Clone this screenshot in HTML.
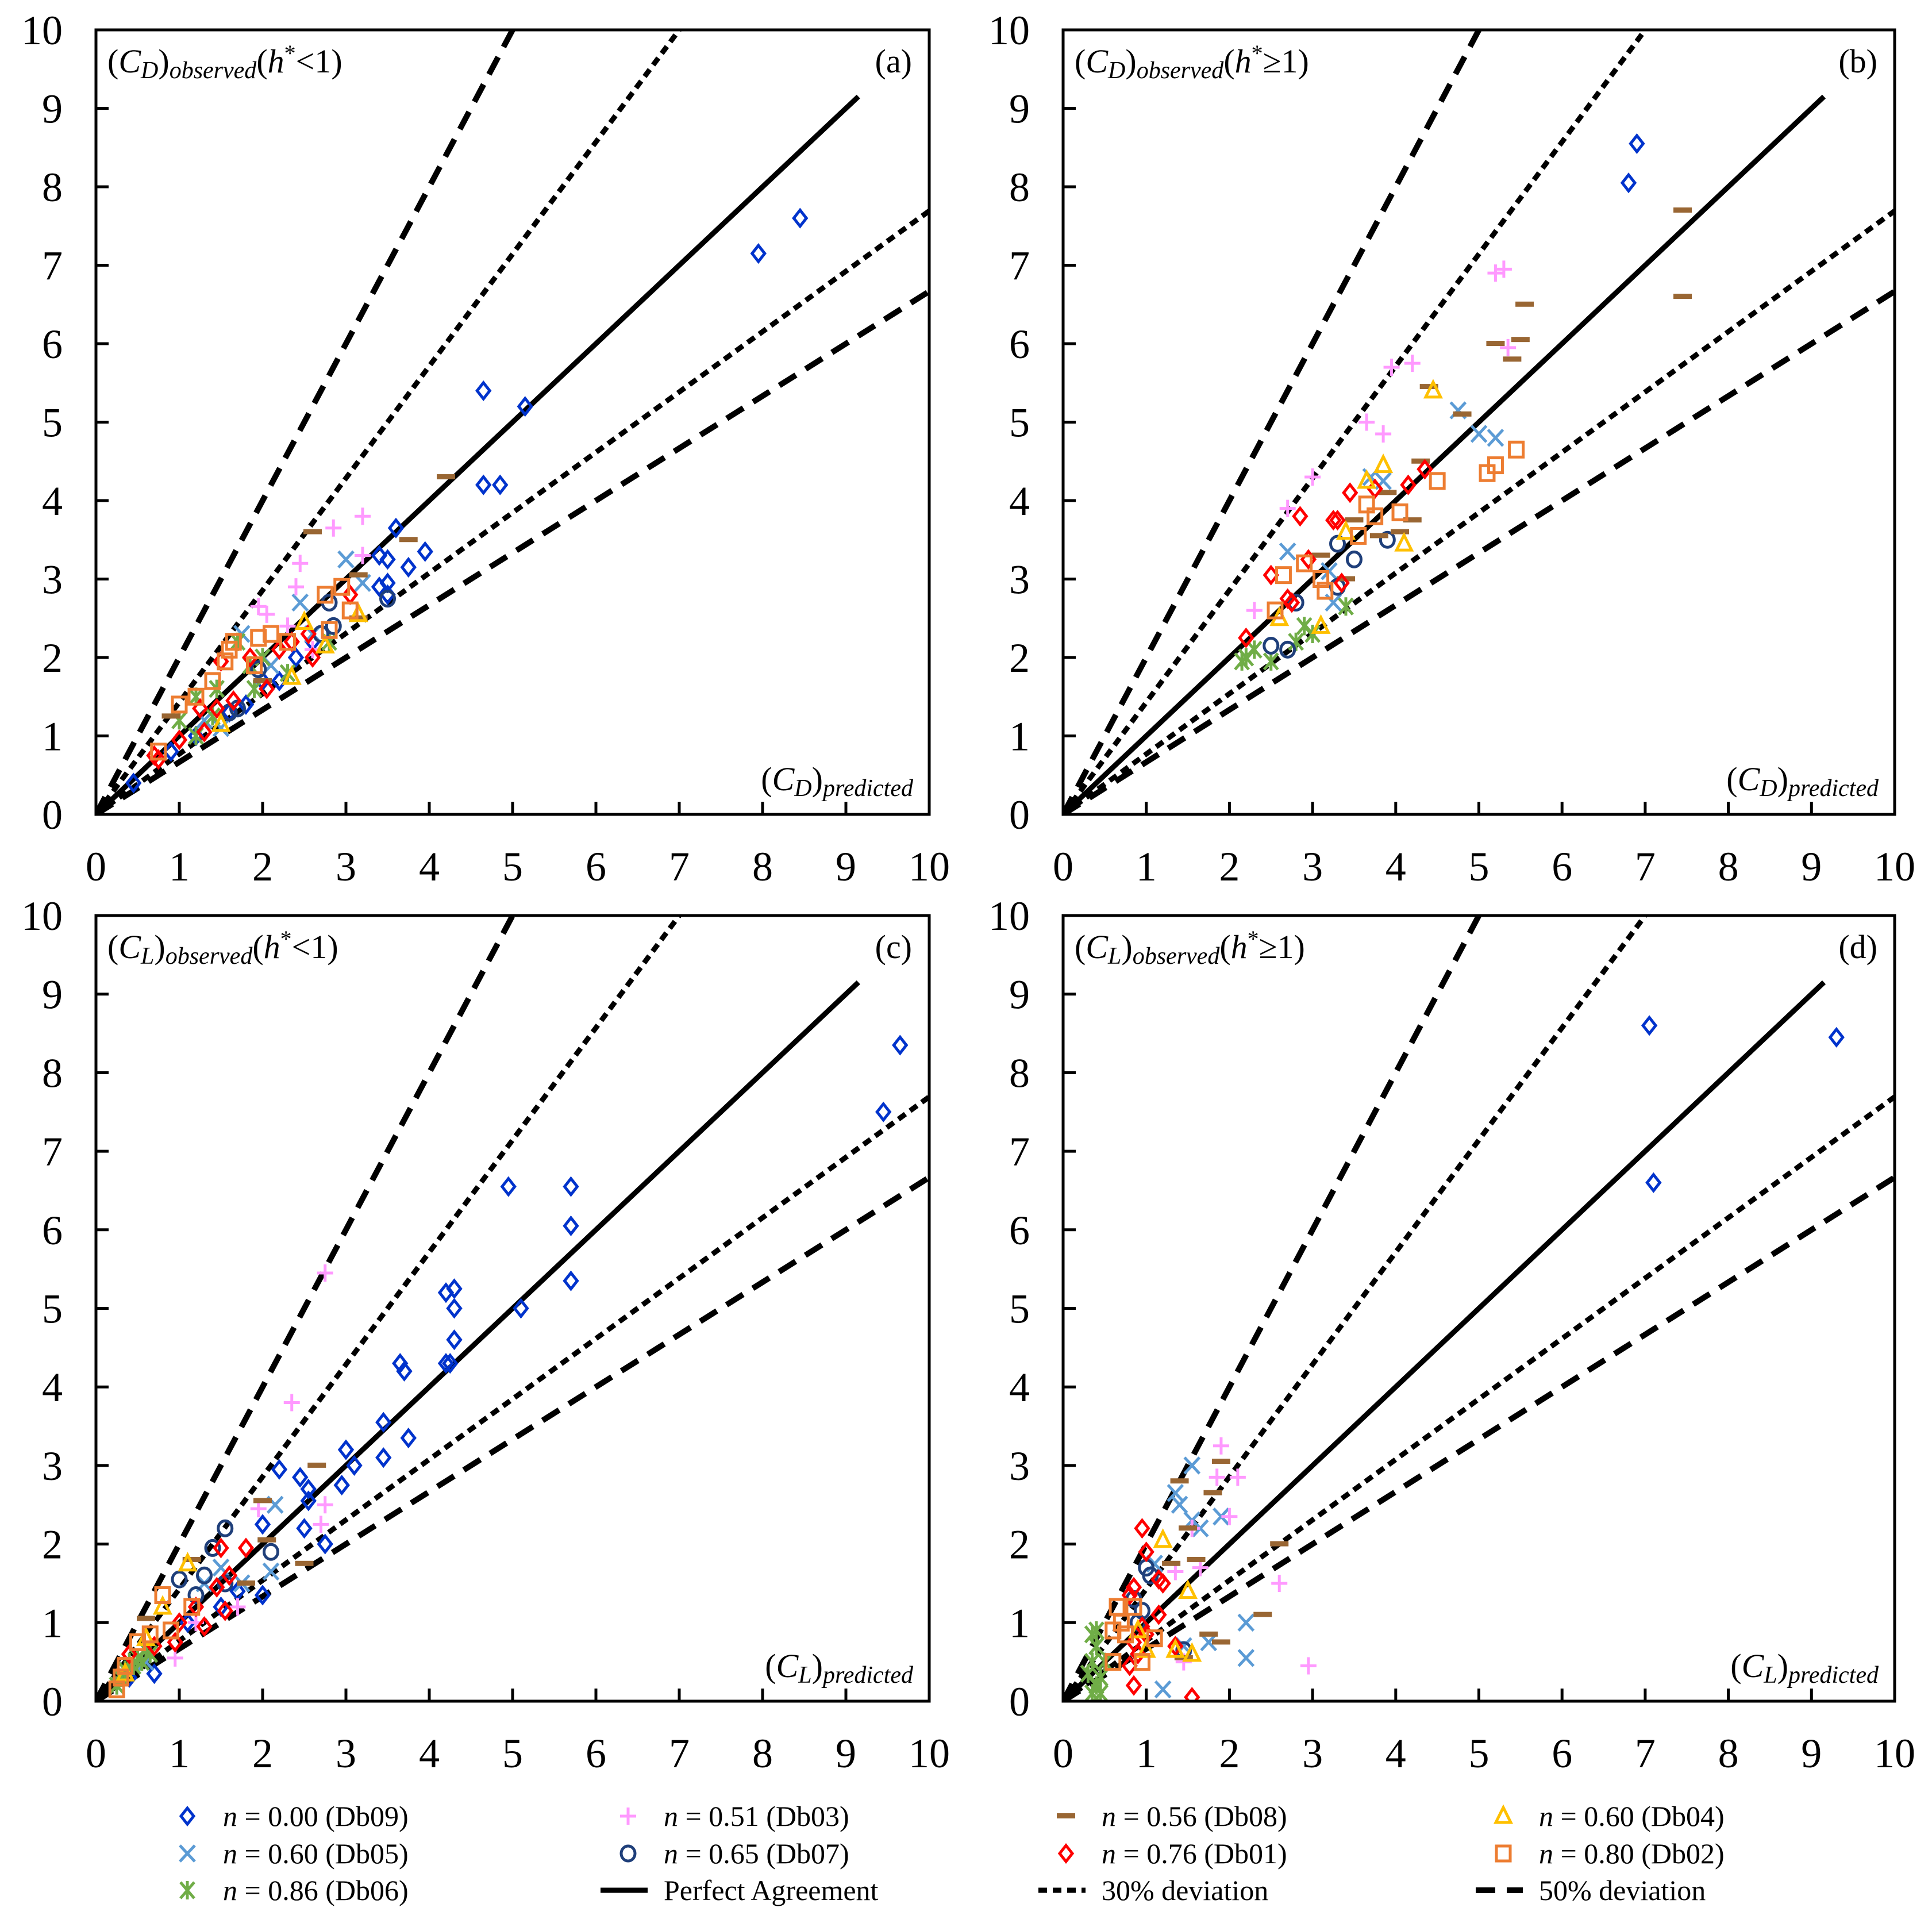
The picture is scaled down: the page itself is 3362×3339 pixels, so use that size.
<!DOCTYPE html>
<html><head><meta charset="utf-8">
<style>
html,body{margin:0;padding:0;background:#fff;}
svg, svg text{font-family:"Liberation Serif","Times New Roman",serif;}
</style></head>
<body>
<svg id="fig" width="3362" height="3334" viewBox="0 0 3362 3334" xmlns="http://www.w3.org/2000/svg" font-family="Liberation Serif, serif"></svg>
<script>
const seriesKeys = ["Db09","Db05","Db06","Db03","Db07","Db08","Db01","Db04","Db02"];
const seriesLabels = ["n = 0.00 (Db09)","n = 0.60 (Db05)","n = 0.86 (Db06)","n = 0.51 (Db03)","n = 0.65 (Db07)","n = 0.56 (Db08)","n = 0.76 (Db01)","n = 0.60 (Db04)","n = 0.80 (Db02)"];
const tickValues = [0,1,2,3,4,5,6,7,8,9,10];
const tickLabels = ["0","1","2","3","4","5","6","7","8","9","10"];
const devUpper30 = 1/0.7, devLower30 = 1/1.3, devUpper50 = 2, devLower50 = 1/1.5;

const panelA_Db09=[[0.45,0.4],[7.95,7.15],[8.45,7.6],[4.65,5.4],[5.15,5.2],[4.65,4.2],[4.85,4.2],[3.6,3.65],[3.4,3.3],[3.5,3.25],[3.95,3.35],[3.75,3.15],[3.4,2.9],[3.5,2.95],[3.5,2.8],[2.6,2.2],[2.2,1.7],[2.0,1.7],[1.8,1.4],[1.6,1.3],[1.2,1.0],[0.9,0.8],[2.4,2.0]];
const panelA_Db05=[[2.45,2.7],[3.0,3.25],[3.2,2.95],[1.75,2.3],[1.5,1.1],[2.1,1.9],[1.3,1.2],[2.6,2.3]];
const panelA_Db06=[[1.0,1.2],[1.2,1.5],[1.45,1.6],[1.7,2.2],[1.85,1.9],[1.9,1.6],[2.3,1.8],[2.8,2.2],[1.2,1.0],[1.4,1.25],[2.0,2.0]];
const panelA_Db03=[[1.95,2.65],[2.05,2.55],[2.4,2.9],[2.45,3.2],[2.85,3.65],[3.2,3.8],[3.2,3.3],[2.3,2.4],[2.6,2.1]];
const panelA_Db07=[[3.5,2.75],[2.85,2.4],[2.8,2.7],[1.7,1.35],[1.6,1.3],[1.95,1.85],[2.7,2.3]];
const panelA_Db08=[[4.2,4.3],[2.6,3.6],[3.75,3.5],[3.15,3.05],[3.15,2.5],[0.9,1.25],[2.0,1.7]];
const panelA_Db01=[[0.7,0.75],[0.75,0.7],[1.0,0.95],[1.3,1.05],[1.45,1.35],[1.5,1.95],[1.65,1.45],[1.85,2.0],[2.05,1.6],[2.2,2.1],[2.55,2.3],[2.6,2.0],[3.05,2.8],[1.25,1.35],[2.35,2.2]];
const panelA_Db04=[[3.15,2.55],[2.75,2.15],[2.35,1.75],[1.5,1.15],[2.5,2.45]];
const panelA_Db02=[[0.75,0.8],[1.0,1.4],[1.2,1.5],[1.4,1.7],[1.55,1.95],[1.6,2.1],[1.65,2.2],[1.95,2.25],[2.1,2.3],[2.3,2.2],[2.75,2.8],[2.95,2.9],[3.05,2.6],[2.8,2.35],[1.9,1.9]];

const panelB_Db09=[[6.8,8.05],[6.9,8.55]];
const panelB_Db05=[[4.75,5.15],[5.0,4.85],[5.2,4.8],[2.7,3.35],[3.85,4.25],[3.7,4.3],[3.25,2.7],[3.2,3.1]];
const panelB_Db06=[[2.2,2.0],[2.3,2.1],[2.5,1.95],[2.8,2.2],[2.9,2.4],[3.4,2.65],[3.0,2.3],[2.15,1.95]];
const panelB_Db03=[[5.2,6.9],[5.3,6.95],[5.35,5.95],[3.95,5.7],[4.2,5.75],[3.65,5.0],[3.85,4.85],[3.0,4.3],[2.7,3.9],[2.3,2.6]];
const panelB_Db07=[[2.5,2.15],[2.7,2.1],[3.3,2.9],[3.3,3.45],[3.5,3.25],[3.9,3.5],[2.8,2.7]];
const panelB_Db08=[[7.45,7.7],[7.45,6.6],[5.55,6.5],[5.2,6.0],[5.5,6.05],[5.4,5.8],[4.4,5.45],[4.8,5.1],[4.3,4.5],[3.9,4.1],[3.5,3.75],[3.8,3.55],[3.1,3.3],[4.2,3.75],[4.05,3.6],[3.4,3.0]];
const panelB_Db01=[[2.2,2.25],[2.5,3.05],[2.7,2.75],[2.75,2.7],[2.85,3.8],[3.25,3.75],[3.3,3.75],[3.45,4.1],[3.75,4.15],[4.15,4.2],[4.35,4.4],[2.95,3.25],[3.35,2.95]];
const panelB_Db04=[[4.45,5.4],[3.85,4.45],[4.1,3.45],[3.65,4.25],[3.4,3.6],[3.1,2.4],[2.6,2.5]];
const panelB_Db02=[[5.45,4.65],[5.2,4.45],[5.1,4.35],[4.5,4.25],[3.65,3.95],[3.75,3.8],[3.55,3.55],[3.1,3.0],[2.65,3.05],[2.9,3.2],[2.55,2.6],[3.15,2.85],[4.05,3.85]];

const panelC_Db09=[[9.65,8.35],[9.45,7.5],[4.95,6.55],[5.7,6.55],[5.7,6.05],[5.7,5.35],[5.1,5.0],[4.2,5.2],[4.3,5.25],[4.3,5.0],[4.3,4.6],[4.25,4.3],[4.2,4.3],[3.65,4.3],[3.7,4.2],[3.75,3.35],[3.45,3.55],[3.45,3.1],[3.0,3.2],[3.1,3.0],[2.95,2.75],[2.75,2.0],[2.2,2.95],[2.45,2.85],[2.55,2.7],[2.5,2.2],[2.55,2.55],[2.0,2.25],[2.0,1.35],[1.7,1.4],[1.5,1.2],[1.1,1.0],[0.7,0.35],[0.4,0.3]];
const panelC_Db05=[[2.15,2.5],[2.1,1.65],[1.75,1.5],[1.5,1.7],[1.3,1.5],[0.6,0.5]];
const panelC_Db06=[[0.3,0.3],[0.35,0.4],[0.45,0.45],[0.5,0.55],[0.55,0.5],[0.6,0.65],[0.25,0.2],[0.4,0.5],[0.65,0.6]];
const panelC_Db03=[[2.35,3.8],[2.75,5.45],[2.75,2.5],[2.7,2.25],[1.95,2.45],[1.7,1.2],[1.2,1.0],[0.95,0.55]];
const panelC_Db07=[[1.55,2.2],[1.4,1.95],[1.3,1.6],[2.1,1.9],[1.55,1.5],[1.0,1.55],[1.2,1.35]];
const panelC_Db08=[[2.65,3.0],[2.0,2.55],[2.5,1.75],[2.05,2.05],[1.8,1.5],[0.6,1.05],[1.15,1.8]];
const panelC_Db01=[[1.5,1.95],[1.8,1.95],[1.45,1.45],[1.2,1.2],[1.55,1.15],[1.3,0.95],[0.95,0.75],[0.7,0.7],[0.4,0.6],[1.6,1.6],[1.0,1.0]];
const panelC_Db04=[[1.1,1.75],[0.8,1.2],[0.6,0.8],[0.35,0.35]];
const panelC_Db02=[[0.8,1.35],[0.65,0.85],[0.5,0.75],[0.35,0.45],[0.3,0.3],[0.25,0.15],[0.9,0.9],[1.15,1.2]];

const panelD_Db09=[[7.05,8.6],[9.3,8.45],[7.1,6.6]];
const panelD_Db05=[[1.55,3.0],[1.35,2.65],[1.4,2.5],[1.55,2.3],[1.65,2.2],[1.9,2.35],[2.2,1.0],[2.2,0.55],[1.2,0.15],[1.75,0.75],[1.1,1.75],[1.45,0.7]];
const panelD_Db06=[[0.35,0.85],[0.4,0.9],[0.4,0.7],[0.35,0.5],[0.3,0.35],[0.45,0.3],[0.35,0.1],[0.45,0.1],[0.4,0.2],[0.5,0.5]];
const panelD_Db03=[[1.9,3.25],[1.85,2.85],[2.1,2.85],[2.0,2.35],[1.55,2.2],[1.35,1.65],[1.65,1.7],[2.6,1.5],[2.95,0.45],[1.45,0.5]];
const panelD_Db07=[[1.0,1.7],[1.05,1.6],[0.85,1.3],[0.95,1.15],[1.45,0.65],[0.9,1.0]];
const panelD_Db08=[[1.4,2.8],[1.8,2.65],[1.9,3.05],[1.5,2.2],[1.6,1.8],[1.3,1.75],[1.75,0.85],[2.4,1.1],[2.6,2.0],[1.9,0.75],[1.45,0.55]];
const panelD_Db01=[[0.95,2.2],[1.0,1.9],[1.2,1.5],[1.15,1.55],[0.85,1.45],[0.8,1.35],[1.15,1.1],[0.95,0.95],[0.85,0.75],[0.9,0.6],[0.8,0.45],[0.85,0.2],[1.55,0.05],[1.35,0.7],[1.0,0.85]];
const panelD_Db04=[[1.2,2.05],[1.5,1.4],[0.9,0.9],[1.55,0.6],[1.35,0.65],[1.0,0.65]];
const panelD_Db02=[[0.65,1.2],[0.7,1.0],[0.85,1.2],[0.6,0.9],[1.1,0.8],[0.6,0.5],[0.95,0.5],[0.75,0.85]];

const NS="http://www.w3.org/2000/svg";
const svg=document.getElementById('fig');
const FONT='"Liberation Serif", serif';
const styles={
 Db09:{shape:'diamond',color:'#0033cc'},Db05:{shape:'x',color:'#5b9bd5'},Db06:{shape:'star',color:'#70ad47'},
 Db03:{shape:'plus',color:'#ff99ff'},Db07:{shape:'circle',color:'#1f3f7a'},Db08:{shape:'dash',color:'#996633'},
 Db01:{shape:'diamond',color:'#ff0000'},Db04:{shape:'triangle',color:'#ffc000'},Db02:{shape:'square',color:'#ed7d31'}
};
function mk(tag,attrs,parent){const e=document.createElementNS(NS,tag);for(const k in attrs)e.setAttribute(k,attrs[k]);(parent||svg).appendChild(e);return e;}

function marker(g,shape,color,x,y){
 const sw=5;let e;
 if(shape==='diamond'){e=mk('polygon',{points:`${x},${y-14} ${x+11},${y} ${x},${y+14} ${x-11},${y}`,fill:'none',stroke:color,'stroke-width':sw},g);}
 else if(shape==='square'){e=mk('rect',{x:x-12,y:y-13,width:24,height:26,fill:'none',stroke:color,'stroke-width':sw},g);}
 else if(shape==='circle'){e=mk('ellipse',{cx:x,cy:y,rx:12,ry:13,fill:'none',stroke:color,'stroke-width':sw},g);}
 else if(shape==='triangle'){e=mk('polygon',{points:`${x},${y-15} ${x+13},${y+11} ${x-13},${y+11}`,fill:'none',stroke:color,'stroke-width':sw},g);}
 else if(shape==='x'){e=mk('path',{d:`M${x-13},${y-14}L${x+13},${y+14}M${x+13},${y-14}L${x-13},${y+14}`,stroke:color,'stroke-width':sw},g);}
 else if(shape==='plus'){e=mk('path',{d:`M${x-14},${y}L${x+14},${y}M${x},${y-15}L${x},${y+15}`,stroke:color,'stroke-width':sw},g);}
 else if(shape==='star'){e=mk('path',{d:`M${x-12},${y-14}L${x+12},${y+14}M${x+12},${y-14}L${x-12},${y+14}M${x},${y-16}L${x},${y+16}`,stroke:color,'stroke-width':sw},g);}
 else if(shape==='dash'){e=mk('rect',{x:x-16,y:y-5,width:32,height:9,fill:color},g);}
 return e;
}

const panels=[
 {id:'a',L:167,R:1617,T:52,B:1417,C:'D',cond:'<1',data:[panelA_Db09,panelA_Db05,panelA_Db06,panelA_Db03,panelA_Db07,panelA_Db08,panelA_Db01,panelA_Db04,panelA_Db02]},
 {id:'b',L:1850,R:3297,T:52,B:1417,C:'D',cond:'≥1',data:[panelB_Db09,panelB_Db05,panelB_Db06,panelB_Db03,panelB_Db07,panelB_Db08,panelB_Db01,panelB_Db04,panelB_Db02]},
 {id:'c',L:167,R:1617,T:1593,B:2960,C:'L',cond:'<1',data:[panelC_Db09,panelC_Db05,panelC_Db06,panelC_Db03,panelC_Db07,panelC_Db08,panelC_Db01,panelC_Db04,panelC_Db02]},
 {id:'d',L:1850,R:3297,T:1593,B:2960,C:'L',cond:'≥1',data:[panelD_Db09,panelD_Db05,panelD_Db06,panelD_Db03,panelD_Db07,panelD_Db08,panelD_Db01,panelD_Db04,panelD_Db02]}
];

panels.forEach(p=>{
 const xs=v=>p.L+(p.R-p.L)*v/10, ys=v=>p.B-(p.B-p.T)*v/10;
 const g=mk('g',{'font-family':FONT});
 
 
 const clip=mk('clipPath',{id:'clip'+p.id},g);
 mk('rect',{x:p.L,y:p.T,width:p.R-p.L,height:p.B-p.T},clip);
 const lines=mk('g',{'clip-path':`url(#clip${p.id})`},g);
 const refs=[[devUpper50,'50','34,20',10],[devLower50,'50','34,20',10],[devUpper30,'30','15,10',9],[devLower30,'30','15,10',9]];
 refs.forEach(r=>{
  const xe=Math.min(10,10/r[0]);
  const l=mk('line',{x1:xs(0),y1:ys(0),x2:xs(xe),y2:ys(xe*r[0]),stroke:'#000','stroke-width':r[3],'stroke-dasharray':r[2]},lines);
  
  
 });
 const pl=mk('line',{x1:xs(0),y1:ys(0),x2:xs(9.15),y2:ys(9.15),stroke:'#000','stroke-width':9},lines);
 
 
 p.data.forEach((arr,si)=>{
  const st=styles[seriesKeys[si]];
  const sg=mk('g',{},lines);
  
  
  arr.forEach(pt=>{
   const m=marker(sg,st.shape,st.color,xs(pt[0]),ys(pt[1]));
   
   
  });
 });
 const fr=mk('rect',{x:p.L,y:p.T,width:p.R-p.L,height:p.B-p.T,fill:'none',stroke:'#000','stroke-width':5},g);
 
 
 tickValues.forEach((v,i)=>{
  if(v>0&&v<10){
   mk('line',{x1:xs(v),y1:p.B,x2:xs(v),y2:p.B-22,stroke:'#000','stroke-width':5},g);
   mk('line',{x1:p.L,y1:ys(v),x2:p.L+22,y2:ys(v),stroke:'#000','stroke-width':5},g);
  }
  const tx=mk('text',{x:xs(v),y:p.B+115,'font-size':72,'text-anchor':'middle','font-family':FONT},g);
  tx.textContent=tickLabels[i];
  
  
  const ty=mk('text',{x:p.L-58,y:ys(v)+25,'font-size':72,'text-anchor':'end','font-family':FONT},g);
  ty.textContent=tickLabels[i];
  
  
 });
 const t1=mk('text',{x:p.L+20,y:p.T+74,'font-size':58,'font-family':FONT},g);
 t1.innerHTML=`(<tspan font-style="italic">C</tspan><tspan font-style="italic" font-size="42" dy="10">${p.C}</tspan><tspan dy="-10">)</tspan><tspan font-style="italic" font-size="42" dy="10">observed</tspan><tspan dy="-10">(</tspan><tspan font-style="italic">h</tspan><tspan font-size="40" dy="-20">*</tspan><tspan dy="20">${p.cond})</tspan>`;
 
 
 const t2=mk('text',{x:p.R-30,y:p.T+74,'font-size':58,'text-anchor':'end','font-family':FONT},g);
 t2.textContent='('+p.id+')';
 
 
 const t3=mk('text',{x:p.R-28,y:p.B-42,'font-size':58,'text-anchor':'end','font-family':FONT},g);
 t3.innerHTML=`(<tspan font-style="italic">C</tspan><tspan font-style="italic" font-size="42" dy="10">${p.C}</tspan><tspan dy="-10">)</tspan><tspan font-style="italic" font-size="42" dy="10">predicted</tspan>`;
 
 
});

const legendOrder=[0,3,5,7,1,4,6,8,2];
const colX=[326,1093,1855,2616], rowY=[3160,3225,3289];
const legendPos=[[0,0],[0,1],[0,2],[0,3],[1,0],[1,1],[1,2],[1,3],[2,0]];
const lg=mk('g',{'font-family':FONT});


legendOrder.forEach((si,i)=>{
 const [r,c]=legendPos[i];
 const st=styles[seriesKeys[si]];
 const eg=mk('g',{},lg);
 
 
 marker(eg,st.shape,st.color,colX[c],rowY[r]);
 const lab=seriesLabels[si].replace(/^n/,'');
 const t=mk('text',{x:colX[c]+62,y:rowY[r]+17,'font-size':50,'font-family':FONT},eg);
 t.innerHTML=`<tspan font-style="italic">n</tspan>${lab}`;
});
const lineEntries=[[1,'Perfect Agreement',null,9],[2,'30% deviation','15,10',9],[3,'50% deviation','34,20',10]];
lineEntries.forEach(le=>{
 const c=le[0], y=rowY[2];
 const eg=mk('g',{},lg);
 
 
 const a={x1:colX[c]-48,y1:y,x2:colX[c]+34,y2:y,stroke:'#000','stroke-width':le[3]};
 if(le[2])a['stroke-dasharray']=le[2];
 mk('line',a,eg);
 const t=mk('text',{x:colX[c]+62,y:y+17,'font-size':50,'font-family':FONT},eg);
 t.textContent=le[1];
});
</script>
</body></html>
